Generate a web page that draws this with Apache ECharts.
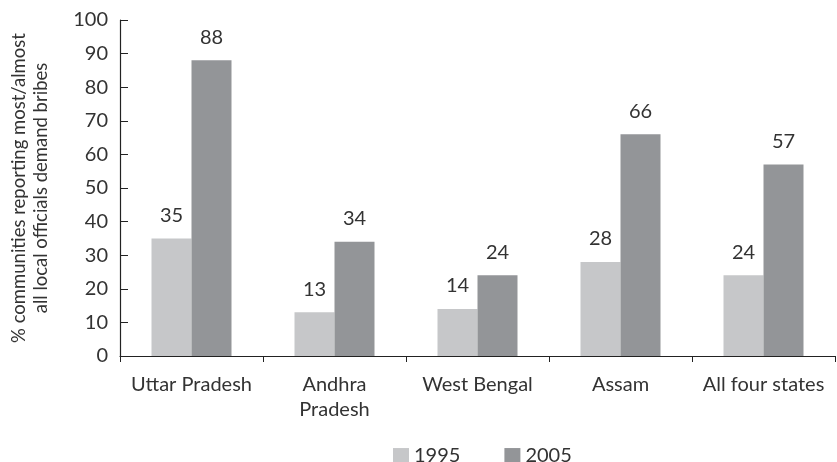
<html>
<head>
    <script src="https://cdn.jsdelivr.net/npm/echarts@6/dist/echarts.min.js"></script>
</head>
<body style="margin:0;">
    <div id="main" style="width: 837px;height:462px;"></div>
    <script>
        var categories = ['Uttar Pradesh', 'Andhra\nPradesh', 'West Bengal', 'Assam', 'All four states'];
        var y1995 = [35, 13, 14, 28, 24];
        var y2005 = [88, 34, 24, 66, 57];
        var yTicks = [0, 10, 20, 30, 40, 50, 60, 70, 80, 90, 100];

        var font = 'Lato';
        var txt = '#333333';

        var myChart = echarts.init(document.getElementById('main'));
        var option = {
            animation: false,
            textStyle: { fontFamily: font, color: txt },
            grid: { left: 120, right: 2, top: 20, bottom: 106, containLabel: false, outerBoundsMode: 'none' },
            legend: {
                top: 436,
                left: 388,
                itemWidth: 16,
                itemHeight: 16,
                itemGap: 44,
                icon: 'rect',
                textStyle: { fontFamily: font, fontSize: 20, color: txt },
                data: ['1995', '2005']
            },
            xAxis: {
                type: 'category',
                data: categories,
                axisLine: { lineStyle: { color: '#222', width: 1.2 } },
                axisTick: { show: true, interval: 0, length: 6, inside: false, lineStyle: { color: '#222' } },
                axisLabel: { interval: 0, fontFamily: font, fontSize: 20, color: txt, margin: 16, lineHeight: 25 }
            },
            yAxis: {
                type: 'value',
                min: 0,
                max: 100,
                interval: 10,
                name: '% communities reporting most/almost\nall local officials demand bribes',
                nameLocation: 'middle',
                nameGap: 68,
                nameTextStyle: { fontFamily: font, fontSize: 18.5, color: txt, lineHeight: 22 },
                splitLine: { show: false },
                axisLine: { show: true, lineStyle: { color: '#222', width: 1.2 } },
                axisTick: { show: true, inside: true, length: 8, lineStyle: { color: '#222' } },
                axisLabel: {
                    fontFamily: font, fontSize: 20, color: txt, margin: 12,
                    formatter: function (v) { return yTicks.indexOf(v) >= 0 ? String(v) : ''; }
                }
            },
            series: [{
                name: '1995',
                type: 'bar',
                data: y1995,
                barWidth: 40,
                barGap: '0%',
                itemStyle: { color: '#c6c7c9' },
                label: { show: true, position: 'top', distance: 8, fontFamily: font, fontSize: 20, color: txt }
            }, {
                name: '2005',
                type: 'bar',
                data: y2005,
                barWidth: 40,
                barGap: '0%',
                itemStyle: { color: '#939598' },
                label: { show: true, position: 'top', distance: 8, fontFamily: font, fontSize: 20, color: txt }
            }]
        };
        myChart.setOption(option);
    </script>
</body>
</html>
